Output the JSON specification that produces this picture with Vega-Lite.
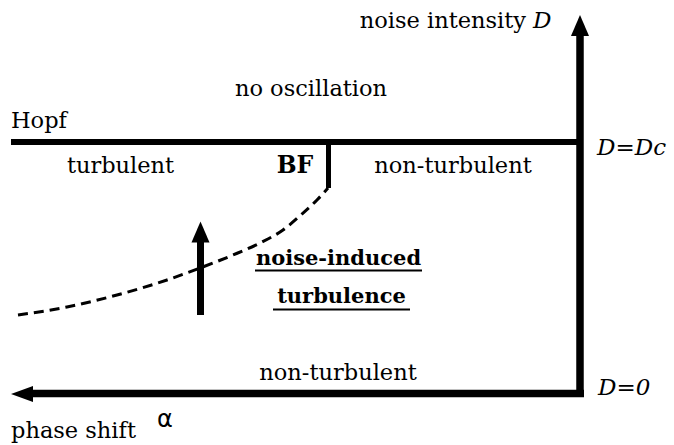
{
  "$schema": "https://vega.github.io/schema/vega-lite/v6.json",
  "width": 674,
  "height": 445,
  "autosize": {"type": "fit", "contains": "padding"},
  "padding": 0,
  "background": "white",
  "config": {"view": {"stroke": null}},
  "datasets": {
    "segments": [
      {"part": "D axis", "a": 580, "a2": 580, "d": 36, "d2": 397, "kind": "axis"},
      {"part": "alpha axis", "a": 33, "a2": 584, "d": 393.5, "d2": 393.5, "kind": "axis"},
      {"part": "Hopf", "a": 11, "a2": 577, "d": 142, "d2": 142, "kind": "hopf"},
      {"part": "BF", "a": 328.5, "a2": 328.5, "d": 142, "d2": 188, "kind": "bf"},
      {"part": "noise arrow", "a": 200.5, "a2": 200.5, "d": 240, "d2": 315, "kind": "arrow"},
      {"part": "underline 1", "a": 255, "a2": 422, "d": 270.5, "d2": 270.5, "kind": "underline"},
      {"part": "underline 2", "a": 273, "a2": 410, "d": 309.5, "d2": 309.5, "kind": "underline"}
    ],
    "heads": [
      {"part": "D axis", "a": 580, "d": 25.5, "dir": "up"},
      {"part": "noise arrow", "a": 200.5, "d": 232, "dir": "up"},
      {"part": "alpha axis", "a": 22, "d": 394, "dir": "left"}
    ],
    "curve": [
      {"a": 18, "d": 315},
      {"a": 67, "d": 307},
      {"a": 117, "d": 295},
      {"a": 167, "d": 280},
      {"a": 200, "d": 268},
      {"a": 233, "d": 255},
      {"a": 260, "d": 243},
      {"a": 283, "d": 230},
      {"a": 302, "d": 214},
      {"a": 317, "d": 200},
      {"a": 328, "d": 188}
    ],
    "labels": [
      {"text": "noise intensity", "a": 526, "d": 28, "style": "normal-right"},
      {"text": "D", "a": 533, "d": 28, "style": "italic"},
      {"text": "no oscillation", "a": 311, "d": 96, "style": "normal-center"},
      {"text": "Hopf", "a": 11, "d": 128, "style": "normal"},
      {"text": "turbulent", "a": 120.5, "d": 173, "style": "normal-center"},
      {"text": "BF", "a": 295, "d": 173, "style": "bold-large"},
      {"text": "non-turbulent", "a": 453, "d": 173, "style": "normal-center"},
      {"text": "D=Dc", "a": 597, "d": 155, "style": "italic"},
      {"text": "noise-induced", "a": 338.5, "d": 265, "style": "bold"},
      {"text": "turbulence", "a": 341.5, "d": 303, "style": "bold"},
      {"text": "non-turbulent", "a": 338, "d": 380, "style": "normal-center"},
      {"text": "D=0", "a": 598, "d": 395, "style": "italic"},
      {"text": "phase shift", "a": 11, "d": 438, "style": "normal"},
      {"text": "α", "a": 157, "d": 427, "style": "alpha"}
    ]
  },
  "encoding": {
    "x": {"field": "a", "type": "quantitative", "scale": {"domain": [0, 674], "nice": false, "zero": false}, "axis": null},
    "y": {"field": "d", "type": "quantitative", "scale": {"domain": [0, 445], "nice": false, "zero": false, "reverse": true}, "axis": null}
  },
  "layer": [
    {
      "data": {"name": "segments"},
      "transform": [{"filter": "datum.kind == 'axis'"}],
      "mark": {"type": "rule", "color": "black", "strokeWidth": 7.5, "strokeCap": "butt"},
      "encoding": {"x2": {"field": "a2"}, "y2": {"field": "d2"}}
    },
    {
      "data": {"name": "segments"},
      "transform": [{"filter": "datum.kind == 'hopf'"}],
      "mark": {"type": "rule", "color": "black", "strokeWidth": 6, "strokeCap": "butt"},
      "encoding": {"x2": {"field": "a2"}, "y2": {"field": "d2"}}
    },
    {
      "data": {"name": "segments"},
      "transform": [{"filter": "datum.kind == 'bf'"}],
      "mark": {"type": "rule", "color": "black", "strokeWidth": 5, "strokeCap": "butt"},
      "encoding": {"x2": {"field": "a2"}, "y2": {"field": "d2"}}
    },
    {
      "data": {"name": "segments"},
      "transform": [{"filter": "datum.kind == 'arrow'"}],
      "mark": {"type": "rule", "color": "black", "strokeWidth": 7, "strokeCap": "butt"},
      "encoding": {"x2": {"field": "a2"}, "y2": {"field": "d2"}}
    },
    {
      "data": {"name": "segments"},
      "transform": [{"filter": "datum.kind == 'underline'"}],
      "mark": {"type": "rule", "color": "black", "strokeWidth": 2, "strokeCap": "butt"},
      "encoding": {"x2": {"field": "a2"}, "y2": {"field": "d2"}}
    },
    {
      "data": {"name": "curve"},
      "mark": {"type": "line", "color": "black", "strokeWidth": 3, "strokeDash": [10, 6], "interpolate": "monotone"},
      "encoding": {"order": {"field": "a", "type": "quantitative"}}
    },
    {
      "data": {"name": "heads"},
      "transform": [{"filter": "datum.dir == 'up'"}],
      "mark": {"type": "point", "shape": "M-0.86,1L0,-1L0.86,1Z", "filled": true, "color": "black", "opacity": 1, "size": 441, "strokeWidth": 0},
      "encoding": {}
    },
    {
      "data": {"name": "heads"},
      "transform": [{"filter": "datum.dir == 'left'"}],
      "mark": {"type": "point", "shape": "M-1,0L1,-0.73L1,0.73Z", "filled": true, "color": "black", "opacity": 1, "size": 484, "strokeWidth": 0},
      "encoding": {}
    },
    {
      "data": {"name": "labels"},
      "transform": [{"filter": "datum.style == 'normal'"}],
      "mark": {"type": "text", "font": "DejaVu Serif", "fontSize": 22.5, "align": "left", "baseline": "alphabetic", "color": "black"},
      "encoding": {"text": {"field": "text"}}
    },
    {
      "data": {"name": "labels"},
      "transform": [{"filter": "datum.style == 'normal-center'"}],
      "mark": {"type": "text", "font": "DejaVu Serif", "fontSize": 22.5, "align": "center", "baseline": "alphabetic", "color": "black"},
      "encoding": {"text": {"field": "text"}}
    },
    {
      "data": {"name": "labels"},
      "transform": [{"filter": "datum.style == 'normal-right'"}],
      "mark": {"type": "text", "font": "DejaVu Serif", "fontSize": 22.5, "align": "right", "baseline": "alphabetic", "color": "black"},
      "encoding": {"text": {"field": "text"}}
    },
    {
      "data": {"name": "labels"},
      "transform": [{"filter": "datum.style == 'italic'"}],
      "mark": {"type": "text", "font": "DejaVu Serif", "fontSize": 23, "fontStyle": "italic", "align": "left", "baseline": "alphabetic", "color": "black"},
      "encoding": {"text": {"field": "text"}}
    },
    {
      "data": {"name": "labels"},
      "transform": [{"filter": "datum.style == 'bold'"}],
      "mark": {"type": "text", "font": "DejaVu Serif", "fontSize": 21, "fontWeight": "bold", "align": "center", "baseline": "alphabetic", "color": "black"},
      "encoding": {"text": {"field": "text"}}
    },
    {
      "data": {"name": "labels"},
      "transform": [{"filter": "datum.style == 'bold-large'"}],
      "mark": {"type": "text", "font": "DejaVu Serif", "fontSize": 23.5, "fontWeight": "bold", "align": "center", "baseline": "alphabetic", "color": "black"},
      "encoding": {"text": {"field": "text"}}
    },
    {
      "data": {"name": "labels"},
      "transform": [{"filter": "datum.style == 'alpha'"}],
      "mark": {"type": "text", "font": "DejaVu Sans", "fontSize": 24, "align": "left", "baseline": "alphabetic", "color": "black"},
      "encoding": {"text": {"field": "text"}}
    }
  ]
}
